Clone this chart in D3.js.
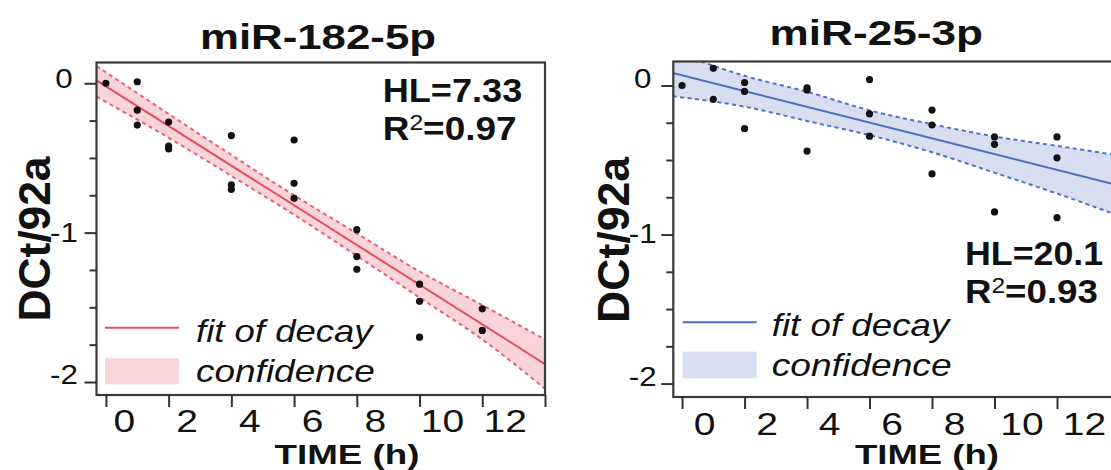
<!DOCTYPE html>
<html><head><meta charset="utf-8">
<script src="https://cdn.jsdelivr.net/npm/d3@7"></script>
<style>html,body{margin:0;padding:0;background:#fff;overflow:hidden}</style>
</head><body>
<svg id="chart" width="1111" height="470"></svg>
<script>
// ---------- data ----------
const titles = ["miR-182-5p", "miR-25-3p"];

const timeL  = [0, 1, 1, 1, 2, 2, 2, 4, 4, 4, 6, 6, 6, 8, 8, 8, 10, 10, 10, 12, 12];
const valueL = [0.0, 0.01, -0.18, -0.28, -0.26, -0.42, -0.44, -0.35, -0.68, -0.71,
                -0.38, -0.67, -0.77, -0.98, -1.16, -1.245, -1.345, -1.46, -1.70, -1.51, -1.655];

const timeR  = [0, 1, 1, 2, 2, 2, 4, 4, 4, 6, 6, 6, 8, 8, 8, 10, 10, 10, 12, 12, 12];
const valueR = [0.0, 0.115, -0.093, 0.02, -0.04, -0.29, -0.015, -0.03, -0.44,
                0.04, -0.19, -0.34, -0.165, -0.265, -0.593, -0.345, -0.395, -0.848, -0.345, -0.485, -0.887];

const fitTime = [-0.3, 14];
const fitL = [0.02, -1.88];
const fitR = [0.084, -0.672];

const bandTime = [-0.3, 2, 4, 6, 8, 10, 12, 14];
const upperL = [0.115, -0.205, -0.48, -0.75, -1.005, -1.26, -1.485, -1.715];
const lowerL = [-0.09, -0.365, -0.62, -0.88, -1.155, -1.435, -1.715, -2.045];
const upperR = [0.23, 0.065, -0.042, -0.167, -0.26, -0.342, -0.405, -0.47];
const lowerR = [-0.072, -0.142, -0.238, -0.333, -0.448, -0.585, -0.725, -0.875];

const hlLabels = ["HL=7.33", "HL=20.1"];
const r2Values = ["0.97", "0.93"];

const xTicks = [0, 2, 4, 6, 8, 10, 12, 14];
const xTickLabels = ["0", "2", "4", "6", "8", "10", "12", ""];
const yMajor = [-2, -1, 0];
const yMajorLabels = ["-2", "-1", "0"];
const yMinor = [-1.75, -1.5, -1.25, -0.75, -0.5, -0.25];
const legendLabels = ["fit of decay", "confidence"];
const xTitle = "TIME (h)";
const yTitle = "DCt/92a";

// ---------- layout / style ----------
const FONT = "'Liberation Sans', Arial, Helvetica, sans-serif";
const panels = [
  { time: timeL, value: valueL, fit: fitL, upper: upperL, lower: lowerL,
    frame: {l: 96.5, r: 545, t: 62.5, b: 395}, xDom: [-0.3, 14], yDom: [-2.087, 0.139],
    line: "#e0505f", dash: "#e36476", fill: "#f8d3d7",
    title: {cx: 318, base: 49, w: 236},
    hl: {x: 382.7, b1: 101.7, w1: 139.6, b2: 140, w2: 134},
    leg: {x0: 105, x1: 179, ly: 327.7, tx: 196, b1: 341.7, b2: 381.7, sy0: 358.3, sy1: 384.3, tw: 179},
    yt: {x: 50, cy: 239, len: 165}, xt: {cx: 347, base: 464, w: 145},
    xLab: {dx: 18, dx2: 4.5, base: 37}, yLabX: -32.5, yShift: [-9, -1, -6] },
  { time: timeR, value: valueR, fit: fitR, upper: upperR, lower: lowerR,
    frame: {l: 673.3, r: 1119.5, t: 61.5, b: 397}, xDom: [-0.28, 14], yDom: [-2.09, 0.161],
    line: "#4a6cc1", dash: "#4c72c9", fill: "#d6deef",
    title: {cx: 876.3, base: 45, w: 213.4},
    hl: {x: 965, b1: 265, w1: 138.3, b2: 303.3, w2: 133},
    leg: {x0: 682.7, x1: 756.7, ly: 322.3, tx: 771.7, b1: 336, b2: 376, sy0: 351.7, sy1: 378.3, tw: 180},
    yt: {x: 629.3, cy: 240, len: 166}, xt: {cx: 927, base: 464, w: 144},
    xLab: {dx: 22, dx2: 5, base: 37.5}, yLabX: -30.5, yShift: [-8, -2, -8] }
];

const svg = d3.select("#chart");

function fitWidth(t, pivotX, w) {
  const bw = t.node().getBBox().width;
  const s = w / bw;
  t.attr("transform", `translate(${pivotX},0) scale(${s},1) translate(${-pivotX},0)`);
}

panels.forEach((p, i) => {
  const f = p.frame;
  const x = d3.scaleLinear().domain(p.xDom).range([f.l, f.r]);
  const y = d3.scaleLinear().domain(p.yDom).range([f.b, f.t]);
  const g = svg.append("g");

  const clipId = "clip" + i;
  svg.append("clipPath").attr("id", clipId).append("rect")
    .attr("x", f.l).attr("y", f.t).attr("width", f.r - f.l).attr("height", f.b - f.t);

  const plot = g.append("g").attr("clip-path", `url(#${clipId})`);
  const band = bandTime.map((t, k) => ({t, u: p.upper[k], l: p.lower[k]}));

  plot.append("path").datum(band)
    .attr("fill", p.fill)
    .attr("d", d3.area().curve(d3.curveMonotoneX).x(d => x(d.t)).y0(d => y(d.l)).y1(d => y(d.u)));
  ["u", "l"].forEach(key => {
    plot.append("path").datum(band)
      .attr("fill", "none").attr("stroke", p.dash).attr("stroke-width", 2)
      .attr("stroke-dasharray", "4,3.5")
      .attr("d", d3.line().curve(d3.curveMonotoneX).x(d => x(d.t)).y(d => y(d[key])));
  });
  plot.append("path").datum(fitTime.map((t, k) => ({t, v: p.fit[k]})))
    .attr("fill", "none").attr("stroke", p.line).attr("stroke-width", 2)
    .attr("d", d3.line().x(d => x(d.t)).y(d => y(d.v)));

  plot.selectAll("circle.pt").data(p.time.map((t, k) => ({t, v: p.value[k]})))
    .enter().append("circle").attr("class", "pt")
    .attr("cx", d => x(d.t)).attr("cy", d => y(d.v)).attr("r", 3.6).attr("fill", "#111");

  // frame
  g.append("rect").attr("x", f.l).attr("y", f.t).attr("width", f.r - f.l).attr("height", f.b - f.t)
    .attr("fill", "none").attr("stroke", "#3a3a3a").attr("stroke-width", 2.2);

  // x axis
  const xa = g.append("g").attr("transform", `translate(0,${f.b})`)
    .call(d3.axisBottom(x).tickValues(xTicks).tickSize(12).tickFormat((d, k) => xTickLabels[k]));
  xa.select(".domain").remove();
  xa.selectAll(".tick line").attr("stroke", "#333").attr("stroke-width", 2);
  xa.selectAll(".tick text")
    .attr("y", null).attr("dy", null)
    .attr("fill", "#111").style("font-family", FONT).style("font-size", "32px")
    .attr("text-anchor", "middle")
    .attr("transform", d => {
      const lab = xTickLabels[xTicks.indexOf(d)];
      const dx = p.xLab.dx + (lab.length - 1) * p.xLab.dx2;
      return `translate(${dx},${p.xLab.base}) scale(1.22,1)`;
    });

  // y axis: minor + major
  const ym = g.append("g").attr("transform", `translate(${f.l},0)`)
    .call(d3.axisLeft(y).tickValues(yMinor).tickSize(7).tickFormat(""));
  ym.select(".domain").remove();
  ym.selectAll(".tick line").attr("stroke", "#333").attr("stroke-width", 2);

  const yM = g.append("g").attr("transform", `translate(${f.l},0)`)
    .call(d3.axisLeft(y).tickValues(yMajor).tickSize(12).tickFormat((d, k) => yMajorLabels[k]));
  yM.select(".domain").remove();
  yM.selectAll(".tick line").attr("stroke", "#333").attr("stroke-width", 2);
  yM.selectAll(".tick text")
    .attr("x", null).attr("dy", null)
    .attr("fill", "#111").style("font-family", FONT).style("font-size", "28px")
    .attr("text-anchor", "middle")
    .attr("transform", (d, k) => `translate(${p.yLabX},${p.yShift[k] + 10}) scale(1.12,1)`);

  // title
  const tt = g.append("text").attr("x", p.title.cx).attr("y", p.title.base)
    .attr("text-anchor", "middle").style("font-family", FONT).style("font-weight", "bold")
    .style("font-size", "35px").attr("fill", "#111").text(titles[i]);
  fitWidth(tt, p.title.cx, p.title.w);

  // HL and R2
  const hl = g.append("text").attr("x", p.hl.x).attr("y", p.hl.b1)
    .style("font-family", FONT).style("font-weight", "bold").style("font-size", "33px")
    .attr("fill", "#111").text(hlLabels[i]);
  fitWidth(hl, p.hl.x, p.hl.w1);
  const r2 = g.append("text").attr("x", p.hl.x).attr("y", p.hl.b2)
    .style("font-family", FONT).style("font-weight", "bold").style("font-size", "33px")
    .attr("fill", "#111");
  r2.append("tspan").text("R");
  r2.append("tspan").attr("dy", -10).style("font-size", "22px").style("font-weight", "normal").text("2");
  r2.append("tspan").attr("dy", 10).text("=" + r2Values[i]);
  fitWidth(r2, p.hl.x, p.hl.w2);

  // legend
  const L = p.leg;
  g.append("line").attr("x1", L.x0).attr("x2", L.x1).attr("y1", L.ly).attr("y2", L.ly)
    .attr("stroke", p.line).attr("stroke-width", 2);
  g.append("rect").attr("x", L.x0).attr("y", L.sy0).attr("width", L.x1 - L.x0).attr("height", L.sy1 - L.sy0)
    .attr("fill", p.fill);
  [L.b1, L.b2].forEach((b, k) => {
    const t = g.append("text").attr("x", L.tx).attr("y", b)
      .style("font-family", FONT).style("font-style", "italic").style("font-size", "32px")
      .attr("fill", "#111").text(legendLabels[k]);
    fitWidth(t, L.tx, L.tw);
  });

  // axis titles
  const xt = g.append("text").attr("x", p.xt.cx).attr("y", p.xt.base)
    .attr("text-anchor", "middle").style("font-family", FONT).style("font-weight", "bold")
    .style("font-size", "27px").attr("fill", "#111").text(xTitle);
  fitWidth(xt, p.xt.cx, p.xt.w);

  g.append("text").attr("transform", `translate(${p.yt.x},${p.yt.cy}) rotate(-90)`)
    .attr("text-anchor", "middle").style("font-family", FONT).style("font-weight", "bold")
    .style("font-size", "44px").attr("fill", "#111")
    .attr("textLength", p.yt.len).attr("lengthAdjust", "spacingAndGlyphs")
    .text(yTitle);
});
</script>
</body></html>
